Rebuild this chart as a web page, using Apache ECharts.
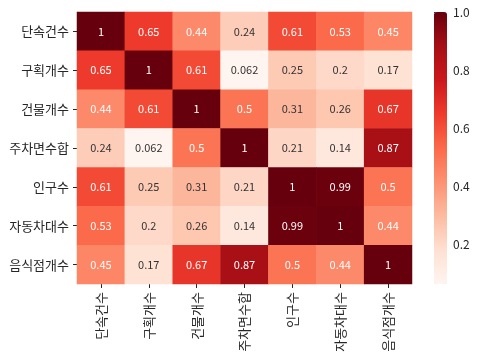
<!DOCTYPE html>
<html><head><meta charset="utf-8">
<script src="https://cdn.jsdelivr.net/npm/echarts@6/dist/echarts.min.js"></script>
<style>html,body{margin:0;padding:0;background:#fff}#c{width:478px;height:360px}</style>
</head><body><div id="c"></div>
<script>
const labels = ['단속건수','구획개수','건물개수','주차면수합','인구수','자동차대수','음식점개수'];
const row0 = [1, 0.65, 0.44, 0.24, 0.61, 0.53, 0.45];
const row1 = [0.65, 1, 0.61, 0.062, 0.25, 0.2, 0.17];
const row2 = [0.44, 0.61, 1, 0.5, 0.31, 0.26, 0.67];
const row3 = [0.24, 0.062, 0.5, 1, 0.21, 0.14, 0.87];
const row4 = [0.61, 0.25, 0.31, 0.21, 1, 0.99, 0.5];
const row5 = [0.53, 0.2, 0.26, 0.14, 0.99, 1, 0.44];
const row6 = [0.45, 0.17, 0.67, 0.87, 0.5, 0.44, 1];
const rows = [row0,row1,row2,row3,row4,row5,row6];
const cbTicks = [0.2, 0.4, 0.6, 0.8, 1.0];
const vMin = 0.062, vMax = 1;

const reds = ['#fff5f0','#fee0d2','#fcbba1','#fc9272','#fb6a4a','#ef3b2c','#cb181d','#a50f15','#67000d'];
const font = '"Noto Sans CJK KR","Noto Sans",sans-serif';
const data = [];
rows.forEach((r, yi) => r.forEach((v, xi) => {
  data.push({value:[xi, yi, v], label:{color: v >= 0.4 ? '#ffffff' : '#333333'}});
}));
const chart = echarts.init(document.getElementById('c'));
chart.setOption({
  animation:false,
  grid:[{left:77, top:12, width:335, height:272},
        {left:434, top:12, width:13, height:272}],
  xAxis:[{type:'category', data:labels, gridIndex:0,
          axisLine:{show:false}, axisTick:{show:true, alignWithLabel:true, length:4, lineStyle:{color:'#262626'}},
          axisLabel:{rotate:90, color:'#262626', fontSize:13, fontFamily:font, margin:8}},
         {type:'value', gridIndex:1, show:false}],
  yAxis:[{type:'category', data:labels, inverse:true, gridIndex:0,
          axisLine:{show:false}, axisTick:{show:true, alignWithLabel:true, length:4, lineStyle:{color:'#262626'}},
          axisLabel:{color:'#262626', fontSize:13, fontFamily:font, margin:8}},
         {type:'value', gridIndex:1, min:vMin, max:vMax, position:'right',
          axisLine:{show:false}, splitLine:{show:false},
          axisTick:{show:true, length:4, lineStyle:{color:'#262626'}, customValues:cbTicks},
          axisLabel:{color:'#262626', fontSize:12, fontFamily:font, margin:6, customValues:cbTicks,
                     formatter:v=>v.toFixed(1)}}],
  visualMap:{type:'continuous', min:vMin, max:vMax, seriesIndex:0, orient:'vertical',
             left:434, top:12, itemWidth:13, itemHeight:272, padding:0, calculable:false,
             text:null, showLabel:false, inRange:{color:reds}},
  series:[{type:'heatmap', xAxisIndex:0, yAxisIndex:0, data:data,
           label:{show:true, fontSize:11, fontFamily:font,
                  formatter:p=>String(Number(p.value[2].toPrecision(2)))},
           itemStyle:{borderWidth:0}, emphasis:{disabled:true}}]
});
</script></body></html>
